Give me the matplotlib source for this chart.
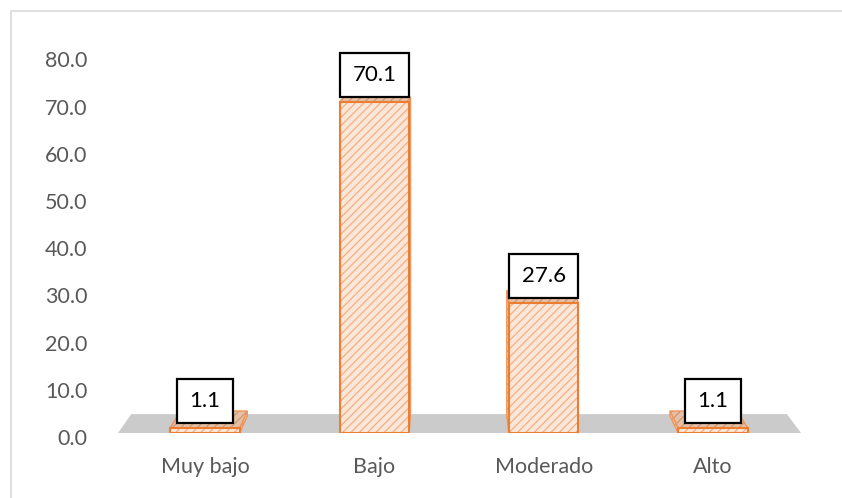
import matplotlib
matplotlib.use("Agg")
import matplotlib.pyplot as plt
from matplotlib.patches import Polygon
from matplotlib.lines import Line2D
from matplotlib.transforms import ScaledTranslation

categories = ['Muy bajo', 'Bajo', 'Moderado', 'Alto']
values = [1.1, 70.1, 27.6, 1.1]
yticks = [0, 10, 20, 30, 40, 50, 60, 70, 80]

plt.rcParams['font.family'] = ['Lato', 'DejaVu Sans']
plt.rcParams['hatch.linewidth'] = 0.8

W, H = 842, 498
fig = plt.figure(figsize=(W / 100, H / 100), dpi=100)
ax = fig.add_axes([118 / W, (H - 433) / H, (801 - 118) / W, (433 - 40) / H])
ax.set_xlim(-0.514, 3.52)
ax.set_ylim(0, (433 - 40) / 4.72)

# fake 3d: vanishing point and depth
V = (1.44, 100.0)
t_floor = 0.04
t_bar = 0.036

def back(p, t):
    return (p[0] + t * (V[0] - p[0]), p[1] + t * (V[1] - p[1]))

x0, x1 = ax.get_xlim()
fl = [(x0, 0), (x1, 0), back((x1, 0), t_floor), back((x0, 0), t_floor)]
ax.add_patch(Polygon(fl, closed=True, fc='#CBCBCB', ec='none', zorder=1, clip_on=False))

xs = range(len(categories))
w = 0.41
orange = '#ED7D31'
ax.bar(xs, values, width=w, color='#FCE6D8', edgecolor='#F2AA7C', hatch='////',
       linewidth=0, zorder=3)
ax.bar(xs, values, width=w, color='none', edgecolor=orange, linewidth=1.5, zorder=4)

for x, v in zip(xs, values):
    xl, xr = x - w / 2, x + w / 2
    ftl, ftr = (xl, v), (xr, v)
    top = [ftl, ftr, back(ftr, t_bar), back(ftl, t_bar)]
    if xr < V[0]:
        side = [(xr, 0), ftr, back(ftr, t_bar), back((xr, 0), t_bar)]
    else:
        side = [(xl, 0), ftl, back(ftl, t_bar), back((xl, 0), t_bar)]
    for poly, fc in [(side, '#F3CDB2'), (top, '#E6C0A6')]:
        ax.add_patch(Polygon(poly, closed=True, fc=fc, ec='#C99670', hatch='////',
                             lw=0, zorder=2))
        ax.add_patch(Polygon(poly, closed=True, fc='none', ec='#F0955A', lw=1.0, zorder=2))
    ax.annotate(f'{v:.1f}', (x, v), xytext=(0, 27), textcoords='offset pixels',
                ha='center', va='center', fontsize=16, color='black', zorder=6,
                bbox=dict(boxstyle='square,pad=0.55', fc='white', ec='black', lw=1.6))

ax.set_xticks(list(xs))
ax.set_xticklabels(categories)
ax.set_yticks(yticks)
ax.set_yticklabels([f'{v:.1f}' for v in yticks])
ax.tick_params(axis='both', length=0, labelsize=15.5, colors='#595959')
ax.tick_params(axis='y', pad=22)
ax.tick_params(axis='x', pad=17)
shift = ScaledTranslation(0, -4 / 100, fig.dpi_scale_trans)
for lab in ax.get_yticklabels():
    lab.set_transform(lab.get_transform() + shift)
for s in ax.spines.values():
    s.set_visible(False)

# chart border (only left/top visible in the crop)
bx, by = 10.5 / W, 1 - 11.5 / H
fig.add_artist(Line2D([bx, bx, 1], [0, by, by], transform=fig.transFigure,
                      color='#D9D9D9', lw=1.2))

fig.savefig('out.png', dpi=100)
